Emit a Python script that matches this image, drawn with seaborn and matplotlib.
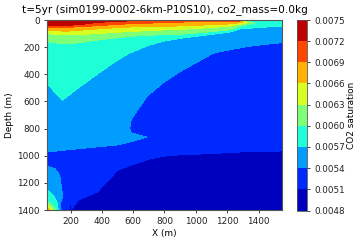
import numpy as np
import matplotlib
matplotlib.use("Agg")
import matplotlib.pyplot as plt
import seaborn as sns

TITLE = "t=5yr (sim0199-0002-6km-P10S10), co2_mass=0.0kg"
levels = [0.0048, 0.0051, 0.0054, 0.0057, 0.0060, 0.0063, 0.0066, 0.0069, 0.0072, 0.0075]
xticks = [200, 400, 600, 800, 1000, 1200, 1400]
yticks = [0, 200, 400, 600, 800, 1000, 1200, 1400]

x_nodes = [50, 100, 130, 150, 165, 175, 210, 250, 370, 500, 575, 585, 612, 687, 700, 800, 900, 1110, 1230, 1270, 1290, 1330, 1400, 1500, 1550]

# each row: depth (m) at every x node, and the saturation read there
d_s = [0] * 25
v_s = [0.0075] * 20 + [0.0066, 0.0056, 0.0055, 0.0052, 0.0053]
d_72 = [37, 37, 37, 37, 37, 37, 37, 35, 18, 9, 7, 7, 7, 6, 6, 5, 5, 5, 5, 4, 5, 6, 12, 12, 12]
v_72 = [0.0072] * 20 + [0.0068, 0.0058, 0.0056, 0.0055, 0.0055]
d_69 = [54, 54, 54, 54, 54, 53, 52, 50, 42, 32, 28, 27, 26, 24, 23, 19, 15, 13, 12, 12, 12, 12, 16, 16, 16]
v_69 = [0.0069] * 20 + [0.0068, 0.0060, 0.0058, 0.0058, 0.0058]
d_66 = [79, 80, 80, 82, 82, 82, 80, 76, 66, 56, 52, 51, 50, 48, 47, 45, 44, 34, 28, 22, 20, 20, 20, 20, 20]
v_66 = [0.0066] * 20 + [0.0066, 0.0063, 0.00585, 0.00585, 0.00585]
d_63 = [98, 105, 108, 110, 110, 110, 110, 108, 100, 90, 85, 85, 83, 79, 78, 73, 69, 55, 44, 32, 30, 28, 24, 24, 24]
v_63 = [0.0063] * 20 + [0.0063, 0.0061, 0.0059, 0.0059, 0.0059]
d_60 = [160, 168, 172, 175, 175, 174, 172, 168, 148, 130, 122, 120, 118, 112, 112, 108, 105, 85, 70, 48, 42, 42, 35, 35, 35]
v_60 = [0.0060] * 20 + [0.0060, 0.0059, 0.0059, 0.0059, 0.0059]
d_57 = [470, 530, 566, 590, 575, 568, 535, 500, 400, 295, 245, 240, 228, 190, 185, 155, 135, 105, 86, 68, 65, 62, 55, 48, 45]
v_57 = [0.0057] * 25
d_u = [700] * 11 + [740, 690, 565, 550, 455, 380, 245, 215, 208, 204, 195, 185, 172, 167]
v_u = [0.0055] * 11 + [0.0054] * 14
d_n = [800] * 15 + [700, 650, 500, 500, 500, 500, 500, 500, 500, 500]
v_n = [0.0055] * 11 + [0.0052, 0.0052, 0.0053, 0.0052] + [0.0052] * 10
d_a = [832] * 12 + [840, 860, 860] + [860] * 10
v_a = [0.0055] * 11 + [0.0054, 0.0054, 0.0054, 0.0052] + [0.0052] * 10
d_m = [865] * 13 + [862, 865] + [870] * 10
v_m = [0.0055] * 13 + [0.0054, 0.0052] + [0.0052] * 10
d_c = [973, 967, 963, 960, 958, 957, 953, 948, 935, 920, 900, 897, 888, 863, 870] + [900] * 10
v_c = [0.0054] * 14 + [0.0052] * 11
d_e = [1020] * 6 + [1390, 1326, 1268, 1107, 1075, 1070, 1059, 1030, 1025, 1003, 993, 984, 975, 973, 972, 970, 968, 966, 965]
v_e = [0.0052] * 6 + [0.0051] * 19
d_g = [1076, 1096, 1140, 1170, 1243, 1245, 1391, 1340] + [1290] * 17
v_g = [0.0054] * 5 + [0.0052, 0.0050] + [0.0049] * 18
d_h = [1250, 1310, 1300, 1295, 1250, 1250, 1392, 1350] + [1310] * 17
v_h = [0.0057, 0.0057, 0.0055, 0.0054, 0.0054, 0.0052, 0.0050] + [0.0049] * 18
d_i = [1335, 1375, 1340, 1330, 1290, 1290, 1394, 1360] + [1330] * 17
v_i = [0.0060, 0.00595, 0.0055, 0.0053, 0.0053, 0.0052, 0.0050] + [0.0049] * 18
d_j = [1355, 1385, 1360, 1350, 1330, 1330, 1396, 1370] + [1350] * 17
v_j = [0.0063, 0.0060, 0.0055, 0.0052, 0.0052, 0.0052, 0.0050] + [0.0049] * 18
d_k = [1380, 1395, 1380, 1380, 1370, 1370, 1398, 1380] + [1370] * 17
v_k = [0.0066, 0.00605, 0.0055, 0.0052, 0.0052, 0.0052, 0.0050] + [0.0049] * 18
d_b = [1400] * 25
v_b = [0.0068, 0.0061, 0.0056, 0.0052, 0.0052, 0.0052, 0.0050] + [0.0049] * 18

depth_rows = [d_s, d_72, d_69, d_66, d_63, d_60, d_57, d_u, d_n, d_a, d_m, d_c, d_e, d_g, d_h, d_i, d_j, d_k, d_b]
value_rows = [v_s, v_72, v_69, v_66, v_63, v_60, v_57, v_u, v_n, v_a, v_m, v_c, v_e, v_g, v_h, v_i, v_j, v_k, v_b]

sns.set_theme(style="ticks", font="DejaVu Sans", rc={
    "text.color": "black", "axes.labelcolor": "black",
    "xtick.color": "#222222", "ytick.color": "#222222",
    "axes.edgecolor": "#555555", "axes.linewidth": 0.8,
    "xtick.major.size": 2.5, "ytick.major.size": 2.5,
    "xtick.major.width": 0.6, "ytick.major.width": 0.6,
    "xtick.major.pad": 2.5, "ytick.major.pad": 2.5,
})

W, H = 360, 243
fig = plt.figure(figsize=(W / 100, H / 100), dpi=100)
ax = fig.add_axes([47 / W, 1 - 210 / H, (282 - 47) / W, (210 - 20) / H])
cax = fig.add_axes([297 / W, 1 - 210.5 / H, 10 / W, 190.5 / H])

Y = np.array(depth_rows, dtype=float)
Z = np.array(value_rows, dtype=float)
X = np.tile(np.array(x_nodes, dtype=float), (Y.shape[0], 1))

cs = ax.contourf(X, Y, Z, levels=levels, cmap="jet")
ax.set_xlim(50, 1550)
ax.set_ylim(1400, 0)
ax.set_xticks(xticks)
ax.set_yticks(yticks)
ax.tick_params(labelsize=6.4)
ax.set_xlabel("X (m)", fontsize=6.4, labelpad=2)
ax.set_ylabel("Depth (m)", fontsize=6.4, labelpad=2.5)
ax.set_title(TITLE, fontsize=7.6, pad=5.5)

cb = fig.colorbar(cs, cax=cax, ticks=levels)
cb.ax.set_yticklabels([f"{v:.4f}" for v in levels])
cb.ax.tick_params(labelsize=6.3, length=2.5, width=0.6, pad=2.5)
cb.set_label("CO2 saturation", fontsize=6.4, labelpad=2)
cb.outline.set_linewidth(0.6)

fig.savefig("out.png", dpi=100)
